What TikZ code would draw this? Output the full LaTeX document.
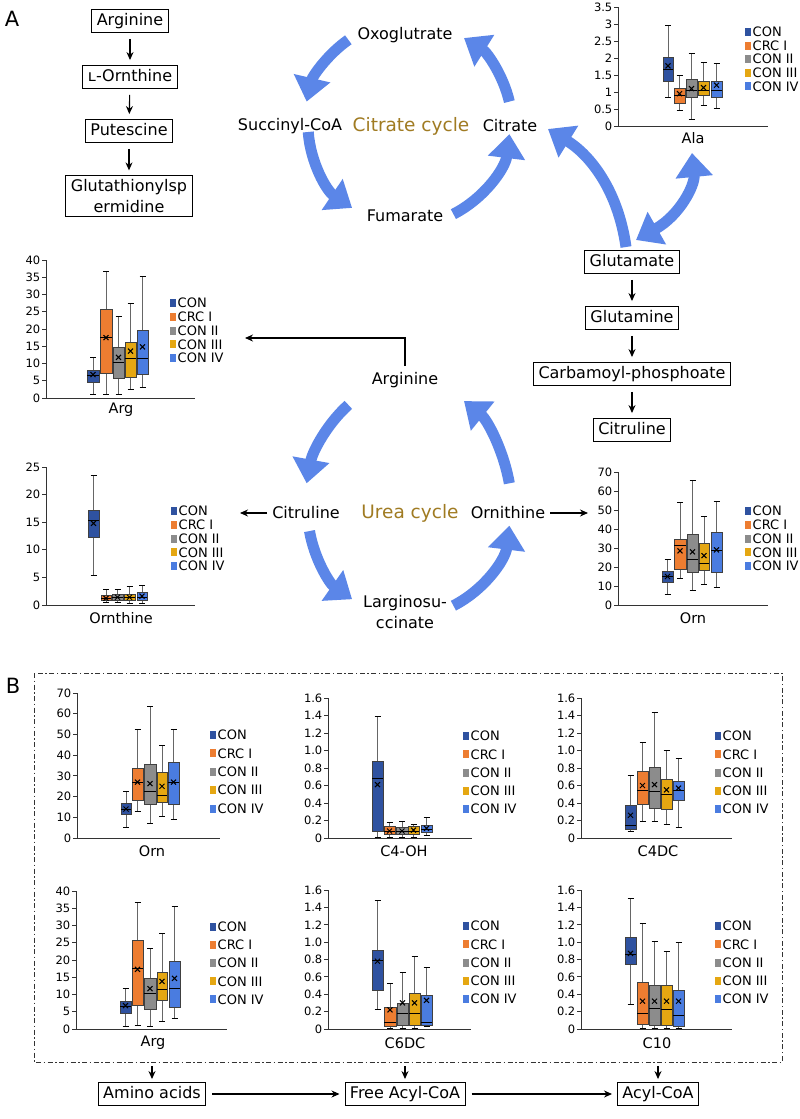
\documentclass[tikz,border=0pt]{standalone}
\usepackage{fontspec}
\setmainfont{DejaVu Sans}
\usetikzlibrary{arrows.meta}
\definecolor{cCON}{HTML}{2F52A0}
\definecolor{cCRC}{HTML}{ED7D31}
\definecolor{cII}{HTML}{8C8C8C}
\definecolor{cIII}{HTML}{E5A712}
\definecolor{cIV}{HTML}{4A7CE0}
\definecolor{cyc}{HTML}{5B86E8}
\definecolor{gold}{HTML}{A07B22}

\newcommand\setchart[5]{\def\cn{#1}\def\cxa{#2}\def\cxb{#3}\def\cyz{#4}\def\cyu{#5}}
\newcommand\chartaxes[2]{%
  \draw[axisst] (\cxa,\cyz) -- (\cxb,\cyz);
  \draw[axisst] (\cxa,\cyz) -- (\cxa,{\cyz-#1*\cyu});
  \foreach \v/\tlab [count=\i] in {#2}{
    \draw[axisst] ({\cxa-4},{\cyz-\v*\cyu}) -- (\cxa,{\cyz-\v*\cyu});
    \node[ticklab,anchor=east] (\cn-t\i) at ({\cxa-4},{\cyz-\v*\cyu}) {\tlab};
  }}
\newcommand\chartlegend[3]{%
  \foreach \c/\t [count=\i from 0] in {cCON/CON,cCRC/CRC I,cII/CON II,cIII/CON III,cIV/CON IV}{
    \fill[\c] (#1,{#2+\i*#3-4}) rectangle ++(6,8);
    \node[legtxt,anchor=west] (\cn-l\i) at ({#1+6.5},{#2+\i*#3}) {\t};
  }}
\newcommand\bp[9]{%
  \pgfmathsetmacro\xc{(#1+#2)/2}%
  \pgfmathsetmacro\ya{\cyz-#3*\cyu}%
  \pgfmathsetmacro\yb{\cyz-#4*\cyu}%
  \pgfmathsetmacro\ym{\cyz-#5*\cyu}%
  \pgfmathsetmacro\yc{\cyz-#6*\cyu}%
  \pgfmathsetmacro\yd{\cyz-#7*\cyu}%
  \pgfmathsetmacro\ye{\cyz-#8*\cyu}%
  \draw[whisk] (\xc,\ya) -- (\xc,\yd);
  \draw[capst] ({\xc-3},\ya) -- ({\xc+3},\ya) ({\xc-3},\yd) -- ({\xc+3},\yd);
  \filldraw[boxst,fill=#9] (#1,\yb) rectangle (#2,\yc);
  \draw[medst] (#1,\ym) -- (#2,\ym);
  \draw[meanst] ({\xc-2.5},{\ye-2.5}) -- ({\xc+2.5},{\ye+2.5}) ({\xc-2.5},{\ye+2.5}) -- ({\xc+2.5},{\ye-2.5});
}

\tikzset{
  lab/.style={font=\fontsize{16}{21}\selectfont, inner sep=2pt},
  chainbox/.style={draw, line width=0.9pt, inner xsep=5pt, inner ysep=3.5pt, font=\fontsize{16}{21}\selectfont},
  cyclab/.style={font=\fontsize{18.5}{22}\selectfont, text=gold},
  sarr/.style={line width=1.1pt, -{Stealth[length=8pt,width=7pt]}},
  bigarr/.style={draw=cyc, line width=11pt, -{Triangle[length=24pt,width=36pt]}},
  bigdarr/.style={draw=cyc, line width=11pt, {Triangle[length=24pt,width=36pt]}-{Triangle[length=24pt,width=36pt]}},
  axisst/.style={draw=black!80, line width=0.9pt},
  ticklab/.style={font=\fontsize{11.5}{13}\selectfont, inner sep=1.5pt},
  legtxt/.style={font=\fontsize{13}{15}\selectfont, inner sep=1pt},
  ttl/.style={font=\fontsize{14.5}{17}\selectfont},
  whisk/.style={draw=black!60, line width=0.9pt},
  capst/.style={draw=black, line width=0.9pt},
  boxst/.style={draw=black!75, line width=0.8pt},
  medst/.style={draw=black, line width=0.9pt},
  meanst/.style={draw=black, line width=1pt},
  panel/.style={font=\fontsize{21}{24}\selectfont},
  frame/.style={draw=black!80, line width=0.8pt, dash pattern=on 5pt off 2.5pt on 1.5pt off 2.5pt},
}

\begin{document}
\begin{tikzpicture}[x=1pt,y=-1pt]
\fill[white] (0,0) rectangle (800,1119);
\useasboundingbox (0,0) rectangle (800,1119);

\node[panel] (pA) at (12,19) {A};
\node[panel] (pB) at (13,686) {B};

% left chain
\node[chainbox, text height=12pt, text depth=4pt] (argA) at (130,21) {Arginine};
\node[chainbox, text height=12pt, text depth=4pt] (lorn) at (130,77) {ʟ-Ornthine};
\node[chainbox, text height=12pt, text depth=4pt] (put) at (129,131) {Putescine};
\node[chainbox, align=center] (glut) at (129,196) {Glutathionylsp\\ermidine};
\draw[sarr, shorten <=6pt, shorten >=5pt] (argA) -- (lorn);
\draw[sarr, shorten <=6pt, shorten >=5pt] (lorn) -- (put);
\draw[sarr, shorten <=6pt, shorten >=5pt] (put) -- (glut);

% citrate cycle
\coordinate (cc) at (408,125);
\node[lab] (oxo) at (405,35) {Oxoglutrate};
\node[lab] (succ) at (290,126) {Succinyl-CoA};
\node[cyclab] (citcyc) at (411,126) {Citrate cycle};
\node[lab] (cit) at (510,126) {Citrate};
\node[lab] (fum) at (405,216) {Fumarate};
\draw[bigarr] ([shift={(-125:104)}]cc) arc[start angle=-125,end angle=-167,radius=104];
\draw[bigarr] ([shift={(-184:100)}]cc) arc[start angle=-184,end angle=-236,radius=100];
\draw[bigarr] ([shift={(-297:100)}]cc) arc[start angle=-297,end angle=-353,radius=104];
\draw[bigarr] ([shift={(-13:104)}]cc) arc[start angle=-13,end angle=-58,radius=102];

% glutamate chain
\node[chainbox, text height=12pt, text depth=4pt] (glu) at (632,262) {Glutamate};
\node[chainbox, text height=12pt, text depth=4pt] (gln) at (632,318) {Glutamine};
\node[chainbox, text height=12pt, text depth=4pt] (carb) at (632,374) {Carbamoyl-phosphoate};
\node[chainbox, text height=12pt, text depth=4pt] (citr) at (632,430) {Citruline};
\draw[sarr, shorten <=6pt, shorten >=5pt] (glu) -- (gln);
\draw[sarr, shorten <=6pt, shorten >=5pt] (gln) -- (carb);
\draw[sarr, shorten <=6pt, shorten >=5pt] (carb) -- (citr);

\coordinate (gluA) at (626,247);
\coordinate (citT) at (548,129);
\draw[bigarr] (gluA) .. controls (618,190) and (590,155) .. (citT);
\coordinate (gluB) at (636,240);
\coordinate (alaT) at (692,153);
\draw[bigdarr] (gluB) .. controls (680,215) and (695,185) .. (alaT);

% urea cycle
\coordinate (uc) at (408,513);
\node[lab] (argU) at (405,380) {Arginine};
\node[lab] (citU) at (306,513) {Citruline};
\node[cyclab] (urea) at (410,513) {Urea cycle};
\node[lab] (ornU) at (508,513) {Ornithine};
\node[lab, align=center] (larg) at (405,612) {Larginosu-\\ccinate};
\draw[bigarr] ([shift={(-125:104 and 132)}]uc) arc[start angle=-125,end angle=-167,x radius=104,y radius=132];
\draw[bigarr] ([shift={(-190:100 and 104)}]uc) arc[start angle=-190,end angle=-236,x radius=100,y radius=104];
\draw[bigarr] ([shift={(-297:100 and 104)}]uc) arc[start angle=-297,end angle=-353,x radius=104,y radius=104];
\draw[bigarr] ([shift={(-13:104 and 132)}]uc) arc[start angle=-13,end angle=-58,x radius=102,y radius=132];

\coordinate (argT) at (245,338);
\draw[sarr, shorten <=4pt] (argU.north) |- (argT);
\coordinate (ornthT) at (240,513);
\draw[sarr, shorten <=3pt] (citU.west) -- (ornthT);
\coordinate (ornT) at (588,513);
\draw[sarr, shorten <=3pt] (ornU.east) -- (ornT);

% ---- Ala chart
\setchart{ala}{618}{768}{126}{34}
\chartaxes{3.5}{0/0,0.5/0.5,1/1,1.5/1.5,2/2,2.5/2.5,3/3,3.5/3.5}
\bp{663}{673}{0.85}{1.3}{1.65}{2.03}{2.95}{1.77}{cCON}
\bp{674}{685}{0.45}{0.67}{0.9}{1.1}{1.5}{0.95}{cCRC}
\bp{686}{697}{0.18}{0.83}{1.05}{1.37}{2.12}{1.1}{cII}
\bp{698}{709}{0.6}{0.9}{1.05}{1.3}{1.88}{1.13}{cIII}
\bp{711}{722}{0.53}{0.85}{1.05}{1.32}{1.85}{1.2}{cIV}
\chartlegend{745}{32}{13.6}
\node[ttl] (ala-ttl) at (693,138) {Ala};

% ---- Arg chart (A)
\setchart{argc}{46}{195}{398}{3.45}
\chartaxes{40}{0/0,5/5,10/10,15/15,20/20,25/25,30/30,35/35,40/40}
\bp{87}{99}{1}{4.5}{6.5}{8}{11.8}{6.8}{cCON}
\bp{100}{112}{1}{7}{17.5}{25.8}{36.8}{17.5}{cCRC}
\bp{113}{124}{1}{5.8}{10.3}{14.6}{23.5}{11.8}{cII}
\bp{125}{136}{2.4}{6}{11.5}{16.2}{27.4}{13.6}{cIII}
\bp{137}{148}{3}{6.7}{11.6}{19.7}{35.2}{14.8}{cIV}
\chartlegend{170}{303}{13.8}
\node[ttl] (argc-ttl) at (121,410) {Arg};

% ---- Ornthine chart
\setchart{ornth}{46}{195}{605}{5.52}
\chartaxes{25}{0/0,5/5,10/10,15/15,20/20,25/25}
\bp{88}{99}{5.3}{12.2}{15.3}{17.1}{23.4}{14.8}{cCON}
\bp{101}{111}{0.5}{0.8}{1.2}{1.8}{2.9}{1.2}{cCRC}
\bp{112}{123}{0.4}{0.8}{1.3}{1.9}{2.9}{1.4}{cII}
\bp{124}{135}{0.3}{0.9}{1.3}{2.0}{3.3}{1.4}{cIII}
\bp{137}{147}{0.2}{0.9}{1.3}{2.3}{3.5}{1.6}{cIV}
\chartlegend{171}{511}{13.8}
\node[ttl] (ornth-ttl) at (121,618) {Ornthine};

% ---- Orn chart (A)
\setchart{ornc}{618}{768}{605}{1.9}
\chartaxes{70}{0/0,10/10,20/20,30/30,40/40,50/50,60/60,70/70}
\bp{662}{673}{5.5}{12}{15}{17.5}{24}{15}{cCON}
\bp{674}{686}{14}{19}{31.5}{34.5}{54}{28.5}{cCRC}
\bp{687}{698}{7.5}{17}{24}{37}{65.5}{28}{cII}
\bp{699}{709}{11}{18}{22}{32.5}{46.5}{26}{cIII}
\bp{711}{722}{9.5}{17}{28.5}{38}{54.5}{29}{cIV}
\chartlegend{745}{511}{13.8}
\node[ttl] (ornc-ttl) at (693,618) {Orn};

% ================= Panel B
\draw[frame] (34,673) rectangle (782,1062);

\setchart{bOrn}{77}{220}{838}{2.07}
\chartaxes{70}{0/0,10/10,20/20,30/30,40/40,50/50,60/60,70/70}
\bp{121}{131}{5}{11.5}{14}{16.5}{22.5}{14}{cCON}
\bp{132}{143}{13}{18}{27}{33.5}{52.5}{27}{cCRC}
\bp{144}{156}{7}{16}{22.5}{35.5}{63.5}{26.3}{cII}
\bp{157}{167}{10.5}{17}{20.5}{31.5}{44.5}{25}{cIII}
\bp{168}{179}{9}{16}{27}{36.5}{52.5}{27}{cIV}
\chartlegend{210}{735}{18.4}
\node[ttl] (bOrn-ttl) at (152,851) {Orn};

\setchart{bC4OH}{328}{472}{838}{87.5}
\chartaxes{1.6}{0/0,0.2/0.2,0.4/0.4,0.6/0.6,0.8/0.8,1.0/1.0,1.2/1.2,1.4/1.4,1.6/1.6}
\bp{372}{383}{0.01}{0.07}{0.68}{0.88}{1.39}{0.61}{cCON}
\bp{384}{395}{0.01}{0.04}{0.08}{0.13}{0.18}{0.08}{cCRC}
\bp{396}{408}{0.01}{0.04}{0.08}{0.12}{0.19}{0.08}{cII}
\bp{408}{419}{0.01}{0.04}{0.08}{0.13}{0.16}{0.09}{cIII}
\bp{421}{432}{0.03}{0.06}{0.1}{0.14}{0.23}{0.11}{cIV}
\chartlegend{463}{736}{18.3}
\node[ttl] (bC4OH-ttl) at (404,851) {C4-OH};

\setchart{bC4DC}{581}{732}{838}{87.5}
\chartaxes{1.6}{0/0,0.2/0.2,0.4/0.4,0.6/0.6,0.8/0.8,1.0/1.0,1.2/1.2,1.4/1.4,1.6/1.6}
\bp{625}{636}{0.07}{0.1}{0.14}{0.37}{0.72}{0.26}{cCON}
\bp{637}{648}{0.19}{0.38}{0.54}{0.76}{1.09}{0.6}{cCRC}
\bp{649}{660}{0.19}{0.34}{0.53}{0.81}{1.43}{0.61}{cII}
\bp{661}{672}{0.16}{0.33}{0.5}{0.67}{1.0}{0.55}{cIII}
\bp{673}{684}{0.12}{0.43}{0.54}{0.65}{0.91}{0.57}{cIV}
\chartlegend{715}{736}{18.3}
\node[ttl] (bC4DC-ttl) at (658,851) {C4DC};

\setchart{bArg}{76}{227}{1029}{3.45}
\chartaxes{40}{0/0,5/5,10/10,15/15,20/20,25/25,30/30,35/35,40/40}
\bp{120}{131}{0.8}{4.5}{6.5}{8}{11.8}{6.8}{cCON}
\bp{132}{143}{1}{6.7}{17.5}{25.7}{36.8}{17.3}{cCRC}
\bp{144}{156}{0.8}{5.6}{10.2}{14.6}{23.4}{11.7}{cII}
\bp{157}{167}{2.2}{8.3}{11.6}{16.5}{27.6}{13.8}{cIII}
\bp{169}{180}{3}{6.2}{11.7}{19.7}{35.4}{14.7}{cIV}
\chartlegend{210}{927}{18.1}
\node[ttl] (bArg-ttl) at (153,1043) {Arg};

\setchart{bC6DC}{328}{471}{1029}{86.9}
\chartaxes{1.6}{0/0,0.2/0.2,0.4/0.4,0.6/0.6,0.8/0.8,1.0/1.0,1.2/1.2,1.4/1.4,1.6/1.6}
\bp{372}{383}{0.22}{0.44}{0.79}{0.91}{1.48}{0.78}{cCON}
\bp{384}{396}{0.01}{0.03}{0.08}{0.25}{0.52}{0.22}{cCRC}
\bp{397}{408}{0.01}{0.04}{0.18}{0.29}{0.65}{0.3}{cII}
\bp{409}{420}{0.01}{0.04}{0.18}{0.41}{0.84}{0.3}{cIII}
\bp{421}{432}{0.03}{0.04}{0.07}{0.39}{0.71}{0.33}{cIV}
\chartlegend{463}{926}{18.3}
\node[ttl] (bC6DC-ttl) at (405,1043) {C6DC};

\setchart{bC10}{581}{732}{1029}{86.9}
\chartaxes{1.6}{0/0,0.2/0.2,0.4/0.4,0.6/0.6,0.8/0.8,1.0/1.0,1.2/1.2,1.4/1.4,1.6/1.6}
\bp{625}{636}{0.28}{0.74}{0.86}{1.05}{1.5}{0.87}{cCON}
\bp{637}{648}{0.01}{0.05}{0.18}{0.54}{1.22}{0.32}{cCRC}
\bp{649}{660}{0.01}{0.04}{0.24}{0.5}{1.01}{0.32}{cII}
\bp{661}{672}{0.01}{0.04}{0.22}{0.5}{0.89}{0.32}{cIII}
\bp{673}{684}{0.01}{0.03}{0.16}{0.44}{1.0}{0.32}{cIV}
\chartlegend{715}{926}{18.3}
\node[ttl] (bC10-ttl) at (657,1043) {C10};

% bottom row
\node[chainbox, text height=12pt, text depth=4pt] (amino) at (152,1094) {Amino acids};
\node[chainbox, text height=12pt, text depth=4pt] (facyl) at (405,1094) {Free Acyl-CoA};
\node[chainbox, text height=12pt, text depth=4pt] (acyl) at (658,1094) {Acyl-CoA};
\coordinate (fA) at (152,1062);
\coordinate (fB) at (405,1062);
\coordinate (fC) at (658,1062);
\draw[sarr, shorten <=4pt, shorten >=3pt] (fA) -- (amino);
\draw[sarr, shorten <=4pt, shorten >=3pt] (fB) -- (facyl);
\draw[sarr, shorten <=4pt, shorten >=3pt] (fC) -- (acyl);
\draw[sarr, shorten <=6pt, shorten >=5pt] (amino) -- (facyl);
\draw[sarr, shorten <=6pt, shorten >=5pt] (facyl) -- (acyl);
\end{tikzpicture}
\end{document}
